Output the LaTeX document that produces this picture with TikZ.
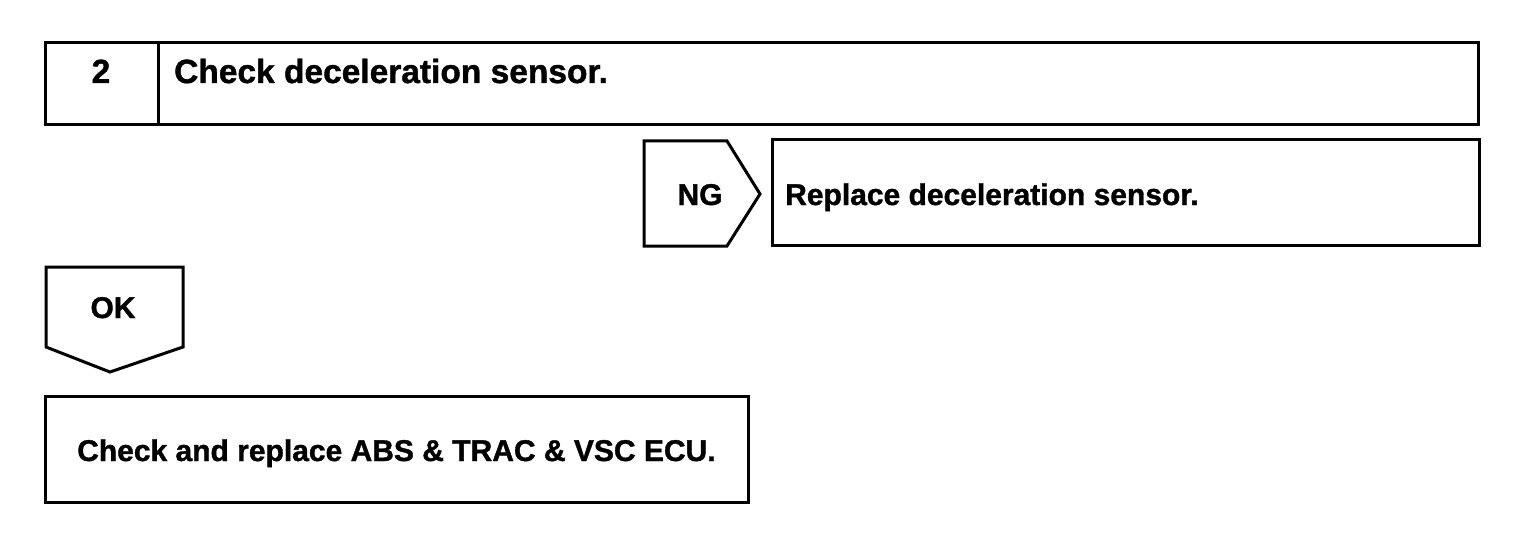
\documentclass[tikz,border=0pt]{standalone}
\usepackage{fontspec}
\setmainfont[BoldFeatures={FakeBold=1.2}]{Liberation Sans}
\begin{document}
\begin{tikzpicture}[x=1pt,y=-1pt,
  frame/.style={draw=black,line width=3pt,line join=miter},
  lbl/.style={inner sep=0pt,font=\fontsize{30}{36}\selectfont\bfseries},
  head/.style={inner sep=0pt,font=\fontsize{33.5}{40}\selectfont\bfseries}]
\useasboundingbox[fill=white] (0,0) rectangle (1520,556);
% top box
\draw[frame] (45,43) rectangle (1478,125);
\draw[frame] (158,43) -- (158,125);
\node[head,anchor=base] (num) at (101,83) {2};
\node[head,anchor=base west] (title) at (174,83) {Check deceleration sensor.};
% NG pentagon
\draw[frame] (644,141) -- (727,141) -- (760,194) -- (727,246) -- (644,246) -- cycle;
\node[lbl,anchor=base] (ng) at (700,205) {NG};
% replace box
\draw[frame] (772,140) rectangle (1479,245);
\node[lbl,anchor=base west] (repl) at (785,205) {Replace deceleration sensor.};
% OK pentagon
\draw[frame] (46,267) -- (183,267) -- (183,347) -- (110,372) -- (46,347) -- cycle;
\node[lbl,anchor=base] (ok) at (113,318) {OK};
% bottom box
\draw[frame] (45,396) rectangle (748,502);
\node[lbl,anchor=base west] (ecu) at (77,461) {Check and replace ABS \& TRAC \& VSC ECU.};
\end{tikzpicture}
\end{document}
